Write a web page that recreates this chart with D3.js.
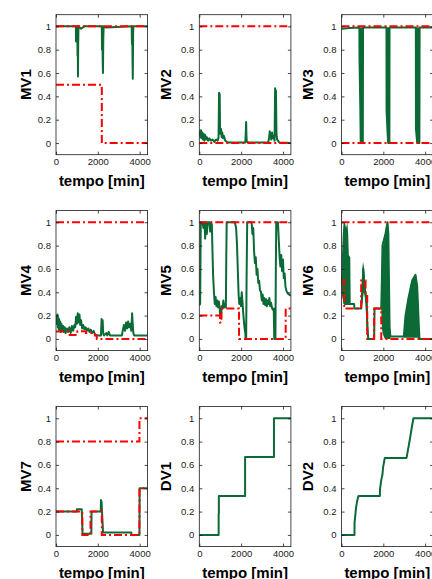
<!DOCTYPE html>
<html>
<head>
<meta charset="utf-8">
<script src="https://cdn.jsdelivr.net/npm/d3@7"></script>
<style>
  html, body { margin: 0; padding: 0; background: #fff; overflow: hidden; }
  svg { display: block; }
  text { font-family: "Liberation Sans", Arial, Helvetica, sans-serif; }
</style>
</head>
<body>
<svg id="chart" width="432" height="579"></svg>
<script>
// ---- axes ----
const xDomain = [0, 4380];
const yDomain = [-0.1, 1.1];
const xTicks = [0, 2000, 4000];
const yTicks = [0, 0.2, 0.4, 0.6, 0.8, 1];
const xLabel = "tempo [min]";
const panelLabels = ["MV1", "MV2", "MV3", "MV4", "MV5", "MV6", "MV7", "DV1", "DV2"];

// ---- MV1 ----  [t, value]
const mv1Upper = [[0, 1], [4380, 1]];
const mv1Lower = [[0, 0.5], [2190, 0.5], [2190, 0], [4380, 0]];
const mv1Trace = [[0, 1], [950, 1], [958, 0.87], [966, 1], [1000, 0.98], [1020, 1], [1030, 0.75], [1040, 0.9],
  [1050, 0.57], [1062, 0.85], [1075, 1], [1200, 0.98], [1350, 1], [2190, 1], [2200, 0.8], [2212, 1],
  [2230, 0.75], [2245, 0.6], [2262, 0.9], [2280, 1], [2400, 0.99], [3620, 1], [3632, 0.85], [3645, 1],
  [3660, 0.7], [3672, 0.55], [3688, 0.95], [3700, 1], [4380, 1]];

// ---- MV2 ----
const mv2Upper = [[0, 1], [4380, 1]];
const mv2Lower = [[0, 0], [4380, 0]];
const mv2Trace = [[0, 0.06], [20, 0.1], [50, 0.05], [80, 0.11], [110, 0.04], [140, 0.09], [170, 0.03], [200, 0.08],
  [240, 0.02], [280, 0.07], [320, 0.03], [360, 0.05], [420, 0.02], [480, 0.04], [560, 0.02], [640, 0.03],
  [720, 0.01], [800, 0.03], [880, 0.02], [920, 0.05], [945, 0.43], [960, 0.3], [975, 0.42], [990, 0.15],
  [1010, 0.08], [1040, 0.12], [1070, 0.05], [1100, 0.09], [1140, 0.04], [1180, 0.06], [1240, 0.02],
  [1320, 0.01], [1400, 0.005], [2200, 0.005], [2220, 0.08], [2240, 0.18], [2255, 0.06], [2270, 0.01],
  [2400, 0.005], [3300, 0.005], [3340, 0.05], [3370, 0.1], [3400, 0.07], [3440, 0.03], [3480, 0.09],
  [3520, 0.04], [3560, 0.06], [3600, 0.02], [3625, 0.47], [3645, 0.2], [3665, 0.45], [3690, 0.08],
  [3720, 0.03], [3760, 0.02], [3820, 0.005], [4380, 0]];

// ---- MV3 ----
const mv3Upper = [[0, 1], [4380, 1]];
const mv3Lower = [[0, 0], [4380, 0]];
const mv3Trace = [[0, 0.98], [400, 0.985], [855, 0.99], [860, 0.73], [900, 0.3], [920, 0], [1020, 0], [1030, 0.99],
  [2150, 0.99], [2155, 0.28], [2200, 0.1], [2230, 0], [2290, 0], [2296, 0.99],
  [3555, 0.99], [3560, 0.12], [3620, 0], [3725, 0], [3735, 0.99], [4380, 0.99]];
// [t, low, high] envelopes of the fast oscillations
const mv3BandA = [[855, 0.99, 0.99], [860, 0.73, 0.99], [900, 0.3, 0.99], [920, 0, 0.99], [1020, 0, 0.99], [1030, 0.99, 0.99]];
const mv3BandB = [[2150, 0.99, 0.99], [2155, 0.28, 0.99], [2200, 0.1, 0.99], [2230, 0, 0.99], [2290, 0, 0.99], [2296, 0.99, 0.99]];
const mv3BandC = [[3555, 0.99, 0.99], [3560, 0.12, 0.99], [3620, 0, 0.99], [3725, 0, 0.99], [3735, 0.99, 0.99]];

// ---- MV4 ----
const mv4Upper = [[0, 1], [4380, 1]];
const mv4Lower = [[0, 0.063], [600, 0.063], [600, 0.034], [1020, 0.034], [1020, 0.065], [1430, 0.065],
  [1430, 0.05], [1860, 0.05], [1860, 0.03], [1950, 0.03], [1950, 0], [4380, 0]];
const mv4Trace = [[0, 0.12], [30, 0.2], [50, 0.13], [70, 0.21], [90, 0.1], [110, 0.18], [130, 0.08], [150, 0.17],
  [170, 0.07], [200, 0.15], [230, 0.06], [260, 0.13], [300, 0.07], [340, 0.11], [380, 0.06], [420, 0.1],
  [460, 0.05], [520, 0.09], [580, 0.06], [640, 0.1], [700, 0.05], [760, 0.11], [820, 0.07], [880, 0.12],
  [920, 0.1], [960, 0.19], [1000, 0.13], [1040, 0.22], [1080, 0.14], [1120, 0.21], [1160, 0.12], [1200, 0.16],
  [1250, 0.09], [1300, 0.12], [1360, 0.08], [1420, 0.1], [1480, 0.07], [1540, 0.09], [1600, 0.06], [1660, 0.08],
  [1720, 0.05], [1800, 0.07], [1860, 0.04], [1950, 0.03], [2150, 0.03], [2180, 0.17], [2200, 0.1], [2230, 0.16],
  [2260, 0.04], [2300, 0.03], [2400, 0.05], [2450, 0.03], [2520, 0.06], [2580, 0.03], [3150, 0.03], [3200, 0.08],
  [3250, 0.12], [3300, 0.07], [3350, 0.14], [3400, 0.09], [3450, 0.15], [3500, 0.1], [3550, 0.13], [3600, 0.07],
  [3640, 0.22], [3670, 0.12], [3700, 0.05], [3740, 0.03], [4380, 0.03]];

// ---- MV5 ----
const mv5Upper = [[0, 1], [4380, 1]];
const mv5Lower = [[0, 0.2], [990, 0.2], [990, 0.14], [1060, 0.14], [1060, 0.26], [1900, 0.26], [1900, 0],
  [4130, 0], [4130, 0.26], [4380, 0.26]];
const mv5Trace = [[0, 0.29], [40, 0.3], [70, 1], [150, 1], [200, 0.95], [250, 1], [280, 0.86], [320, 1], [360, 0.9],
  [400, 1], [480, 1], [520, 0.92], [560, 1], [600, 0.98], [630, 0.75], [660, 0.55], [700, 0.4], [740, 0.3],
  [780, 0.36], [820, 0.28], [860, 0.33], [900, 0.27], [940, 0.32], [980, 0.25], [1000, 0.19], [1040, 0.2],
  [1070, 0.28], [1110, 0.26], [1150, 0.33], [1190, 0.27], [1230, 0.3], [1270, 0.27], [1290, 0.7], [1310, 1],
  [1700, 1], [1760, 0.95], [1800, 0.82], [1840, 0.6], [1880, 0.38], [1910, 0.3], [1950, 0.35], [1990, 0.28],
  [2030, 0.4], [2070, 0.3], [2110, 0.2], [2160, 0.1], [2200, 0.05], [2215, 0], [2240, 0], [2260, 0.5], [2290, 1],
  [2500, 1], [2540, 0.9], [2580, 0.95], [2620, 0.75], [2660, 0.65], [2700, 0.7], [2740, 0.55], [2780, 0.6],
  [2820, 0.48], [2860, 0.5], [2900, 0.42], [2950, 0.4], [2990, 0.33], [3030, 0.38], [3070, 0.3], [3110, 0.35],
  [3150, 0.29], [3190, 0.34], [3230, 0.28], [3270, 0.33], [3310, 0.3], [3350, 0.35], [3390, 0.28], [3430, 0.31],
  [3470, 0.27], [3510, 0.25], [3560, 0.26], [3585, 0], [3640, 0], [3660, 0.6], [3680, 1], [3760, 1], [3800, 0.85],
  [3840, 0.7], [3880, 0.62], [3920, 0.72], [3960, 0.58], [4000, 0.68], [4040, 0.52], [4080, 0.56], [4120, 0.45],
  [4170, 0.41], [4230, 0.39], [4300, 0.38], [4380, 0.37]];

// ---- MV6 ----
const mv6Upper = [[0, 1], [4380, 1]];
const mv6Lower = [[0, 0.5], [130, 0.5], [130, 0.26], [940, 0.26], [940, 0.5], [1150, 0.5], [1150, 0.38],
  [1230, 0.38], [1230, 0], [1560, 0], [1560, 0.26], [1900, 0.26], [1900, 0], [4380, 0]];
const mv6Trace = [[0, 0.55], [60, 0.4], [100, 0.35], [150, 0.3], [440, 0.3], [600, 0.3], [620, 0.26], [940, 0.26],
  [960, 0.3], [1000, 0.45], [1040, 0.6], [1080, 0.5], [1120, 0.42], [1160, 0.36], [1200, 0.3], [1240, 0.1],
  [1280, 0], [1560, 0], [1580, 0.26], [1900, 0.26], [1930, 0.5], [1960, 0.8], [2100, 0.9], [2200, 1],
  [2240, 0.9], [2300, 0.1], [2340, 0.02], [2980, 0.02], [3060, 0.2], [3200, 0.35], [3380, 0.5], [3540, 0.55],
  [3620, 0.45], [3700, 0.1], [3730, 0], [4380, 0]];
const mv6BandA = [[0, 0.5, 0.6], [30, 0.45, 0.75], [60, 0.35, 0.9], [100, 0.3, 1], [160, 0.3, 1], [220, 0.3, 0.95],
  [280, 0.3, 1], [320, 0.3, 0.9], [350, 0.3, 0.72], [420, 0.3, 0.7], [440, 0.3, 0.3]];
const mv6BandB = [[960, 0.28, 0.3], [990, 0.3, 0.6], [1030, 0.35, 0.66], [1070, 0.4, 0.62], [1110, 0.38, 0.55],
  [1150, 0.3, 0.45], [1200, 0.1, 0.38], [1250, 0, 0.3], [1290, 0, 0]];
const mv6BandC = [[1900, 0.26, 0.26], [1930, 0.1, 0.7], [1960, 0.05, 0.82], [2020, 0.02, 0.8], [2080, 0, 0.9],
  [2140, 0, 0.95], [2190, 0, 1], [2230, 0, 1], [2270, 0, 0.5], [2300, 0, 0.15], [2340, 0, 0.02]];
const mv6BandD = [[2980, 0.01, 0.02], [3060, 0.01, 0.2], [3140, 0.01, 0.3], [3220, 0.01, 0.38], [3300, 0.01, 0.46],
  [3380, 0.01, 0.5], [3440, 0.01, 0.52], [3540, 0.01, 0.55], [3600, 0.01, 0.48], [3650, 0.01, 0.35],
  [3700, 0, 0.12], [3730, 0, 0]];

// ---- MV7 ----
const mv7Upper = [[0, 0.8], [3990, 0.8], [3990, 1], [4380, 1]];
const mv7Lower = [[0, 0.2], [1260, 0.2], [1260, 0], [1650, 0], [1650, 0.2], [2190, 0.2], [2190, 0],
  [3990, 0], [3990, 0.4], [4380, 0.4]];
const mv7Trace = [[0, 0.2], [1000, 0.2], [1000, 0.22], [1230, 0.22], [1270, 0.01], [1690, 0.01], [1700, 0.2],
  [2140, 0.2], [2150, 0.3], [2180, 0.28], [2200, 0.2], [2250, 0.02], [3600, 0.02], [3620, 0], [3990, 0],
  [4000, 0.4], [4380, 0.4]];

// ---- DV1, DV2 ----
const dv1Trace = [[0, 0], [925, 0], [925, 0.18], [935, 0.18], [935, 0.333], [2190, 0.333], [2190, 0.667],
  [3570, 0.667], [3570, 1], [4380, 1]];
const dv2Trace = [[0, 0], [620, 0], [625, 0.11], [650, 0.15], [700, 0.24], [760, 0.3], [810, 0.333], [1835, 0.333],
  [1840, 0.39], [1900, 0.47], [1960, 0.52], [1990, 0.58], [2070, 0.66], [3110, 0.66], [3170, 0.72],
  [3270, 0.82], [3350, 0.91], [3440, 1], [4380, 1]];

const panels = [
  { trace: mv1Trace, bands: [], bounds: [mv1Upper, mv1Lower] },
  { trace: mv2Trace, bands: [], bounds: [mv2Upper, mv2Lower] },
  { trace: mv3Trace, bands: [mv3BandA, mv3BandB, mv3BandC], bounds: [mv3Upper, mv3Lower] },
  { trace: mv4Trace, bands: [], bounds: [mv4Upper, mv4Lower] },
  { trace: mv5Trace, bands: [], bounds: [mv5Upper, mv5Lower] },
  { trace: mv6Trace, bands: [mv6BandA, mv6BandB, mv6BandC, mv6BandD], bounds: [mv6Upper, mv6Lower] },
  { trace: mv7Trace, bands: [], bounds: [mv7Upper, mv7Lower] },
  { trace: dv1Trace, bands: [], bounds: [] },
  { trace: dv2Trace, bands: [], bounds: [] }
];

// ---- layout ----
const W = 91.6, H = 140;
const colX = [56, 199.3, 341.5];
const rowY = [14.7, 210.6, 406.6];
const green = "#0b6a36", red = "#ff0000", ink = "#1a1a1a";

const svg = d3.select("#chart");
svg.append("defs").append("clipPath").attr("id", "plotClip")
  .append("rect").attr("width", W).attr("height", H);

const x = d3.scaleLinear().domain(xDomain).range([0, W]);
const y = d3.scaleLinear().domain(yDomain).range([H, 0]);
const line = d3.line().x(d => x(d[0])).y(d => y(d[1]));
const band = d3.area().x(d => x(d[0])).y0(d => y(d[1])).y1(d => y(d[2]));

function styleAxis(sel, fontSize) {
  sel.select(".domain").remove();
  sel.selectAll(".tick line").attr("stroke", ink).attr("stroke-width", 0.8);
  sel.selectAll(".tick text").attr("fill", ink).attr("font-size", fontSize)
    .attr("font-family", '"Liberation Sans", Arial, sans-serif');
}

panels.forEach((p, i) => {
  const g = svg.append("g")
    .attr("transform", `translate(${colX[i % 3]},${rowY[Math.floor(i / 3)]})`);

  const plot = g.append("g").attr("clip-path", "url(#plotClip)");
  p.bands.forEach(b => plot.append("path").attr("d", band(b)).attr("fill", green));
  plot.append("path").attr("d", line(p.trace))
    .attr("fill", "none").attr("stroke", green).attr("stroke-width", 2)
    .attr("stroke-linejoin", "round");
  p.bounds.forEach(b => plot.append("path").attr("d", line(b))
    .attr("fill", "none").attr("stroke", red).attr("stroke-width", 2)
    .attr("stroke-dasharray", "8,3,2,3"));

  // ticks point inward on all four sides
  g.append("g").attr("transform", `translate(0,${H})`)
    .call(d3.axisBottom(x).tickValues(xTicks).tickSize(-3).tickPadding(4).tickFormat(d3.format("d")))
    .call(s => styleAxis(s, 9.5));
  g.append("g")
    .call(d3.axisTop(x).tickValues(xTicks).tickSize(-3).tickFormat(""))
    .call(s => styleAxis(s, 9.5));
  g.append("g")
    .call(d3.axisLeft(y).tickValues(yTicks).tickSize(-3).tickPadding(5).tickFormat(d => String(d)))
    .call(s => styleAxis(s, 9.5));
  g.append("g").attr("transform", `translate(${W},0)`)
    .call(d3.axisRight(y).tickValues(yTicks).tickSize(-3).tickFormat(""))
    .call(s => styleAxis(s, 9.5));

  g.append("rect").attr("width", W).attr("height", H)
    .attr("fill", "none").attr("stroke", ink).attr("stroke-width", 0.8);

  g.append("text")
    .attr("x", W / 2).attr("y", H + 31)
    .attr("text-anchor", "middle").attr("font-size", 15).attr("font-weight", "bold")
    .attr("fill", "#000").text(xLabel);

  g.append("text")
    .attr("transform", `translate(${i % 3 === 0 ? -25.5 : -28.5},${H / 2}) rotate(-90)`)
    .attr("text-anchor", "middle").attr("font-size", 15).attr("font-weight", "bold")
    .attr("fill", "#000").text(panelLabels[i]);
});
</script>
</body>
</html>
